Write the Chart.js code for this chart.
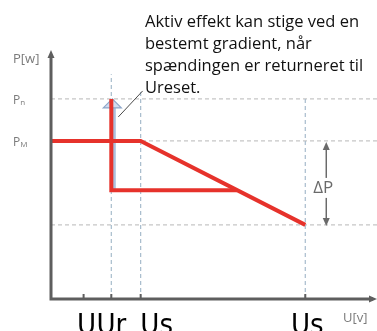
<!DOCTYPE html>
<html>
<head>
<meta charset="utf-8">
<script src="https://cdn.jsdelivr.net/npm/chart.js@4/dist/chart.umd.min.js"></script>
<style>
    body { margin: 0; background: #fff; }
    #chart { display: block; }
</style>
</head>
<body>
<canvas id="chart" width="377" height="331"></canvas>
<script>
// Spændingsstyret effektbegrænsning (P over U)
const uNames = ['U', 'Ur', 'Us', 'Us'];
const uValues = [10, 18.5, 27.5, 78];
const guideTops = [null, 91, 85, 81];   // hvor de lodrette hjælpelinjer slutter

const pNames = ['P', 'P'];
const pSubs = ['n', 'M'];
const pValues = [81, 64];
const pMin = 30;       // PM - ΔP
const pReset = 44;     // niveau efter udkobling
const uCross = 57;     // hvor genindkoblingen møder rampen

// rød kurve: begrænsning
const limitU = [0, 27.5, 78];
const limitP = [64, 64, 30];
// rød kurve: udkobling og genstart ved Ur
const resetU = [18.5, 18.5, uCross];
const resetP = [81, pReset, pReset];

const noteLines = [
    'Aktiv effekt kan stige ved en',
    'bestemt gradient, når',
    'spændingen er returneret til',
    'Ureset.'
];

const RED = '#e6322b';
const AXIS = '#5e5e5e';

function pts(xs, ys) {
    return xs.map((x, i) => ({ x: x, y: ys[i] }));
}

const guides = [];
uValues.forEach((u, i) => {
    if (guideTops[i] == null) return;
    guides.push({
        data: [{ x: u, y: 0 }, { x: u, y: guideTops[i] }],
        borderColor: '#a7bccc', borderWidth: 1.2, borderDash: [4, 3], order: 5
    });
});
[pValues[0], pValues[1], pMin].forEach(p => {
    guides.push({
        data: [{ x: 0, y: p }, { x: 100, y: p }],
        borderColor: '#c6c6c6', borderWidth: 1.2, borderDash: [4, 3], order: 5
    });
});

function arrowHead(ctx, x, y, dir, w, h) {
    ctx.beginPath();
    if (dir === 'up') { ctx.moveTo(x, y); ctx.lineTo(x - w, y + h); ctx.lineTo(x + w, y + h); }
    if (dir === 'down') { ctx.moveTo(x, y); ctx.lineTo(x - w, y - h); ctx.lineTo(x + w, y - h); }
    if (dir === 'right') { ctx.moveTo(x, y); ctx.lineTo(x - h, y - w); ctx.lineTo(x - h, y + w); }
    ctx.closePath();
    ctx.fill();
}

// akser, pile og tekster
const decor = {
    id: 'decor',
    beforeDatasetsDraw(chart) {
        const { ctx, scales: { x, y } } = chart;
        const xr = x.getPixelForValue(uValues[1]);
        const yTop = y.getPixelForValue(pValues[0]);
        const yLow = y.getPixelForValue(pReset);
        ctx.save();
        // blå pil bag den røde linje
        ctx.strokeStyle = 'rgba(150,178,212,0.8)';
        ctx.lineWidth = 4;
        ctx.beginPath();
        ctx.moveTo(xr + 2.5, yLow);
        ctx.lineTo(xr + 2.5, yTop + 8);
        ctx.stroke();
        ctx.fillStyle = 'rgba(205,218,238,0.95)';
        ctx.strokeStyle = '#8ea7c9';
        ctx.lineWidth = 1.2;
        ctx.beginPath();
        ctx.moveTo(xr + 1, yTop);
        ctx.lineTo(xr - 8, yTop + 9);
        ctx.lineTo(xr + 10, yTop + 9);
        ctx.closePath();
        ctx.fill();
        ctx.stroke();
        ctx.restore();
    },
    afterDatasetsDraw(chart) {
        const { ctx, chartArea: a, scales: { x, y } } = chart;
        ctx.save();

        // akser
        ctx.strokeStyle = AXIS;
        ctx.fillStyle = AXIS;
        ctx.lineWidth = 3;
        ctx.beginPath();
        ctx.moveTo(a.left, a.top + 4);
        ctx.lineTo(a.left, a.bottom);
        ctx.lineTo(a.right - 4, a.bottom);
        ctx.stroke();
        arrowHead(ctx, a.left, a.top - 2, 'up', 3.5, 8);
        arrowHead(ctx, a.right, a.bottom, 'right', 3.5, 8);

        // tick-streger
        ctx.lineWidth = 2;
        uValues.forEach(u => {
            const px = x.getPixelForValue(u);
            ctx.beginPath();
            ctx.moveTo(px, a.bottom - 5);
            ctx.lineTo(px, a.bottom);
            ctx.stroke();
        });

        // ΔP pil
        const xd = x.getPixelForValue(uValues[3]) + 21;
        const y1 = y.getPixelForValue(pValues[1]) + 1;
        const y2 = y.getPixelForValue(pMin) + 1;
        ctx.strokeStyle = '#6a6a6a';
        ctx.fillStyle = '#6a6a6a';
        ctx.lineWidth = 1.5;
        ctx.beginPath();
        ctx.moveTo(xd, y1 + 6);
        ctx.lineTo(xd, y2 - 6);
        ctx.stroke();
        arrowHead(ctx, xd, y1, 'up', 3.5, 8);
        arrowHead(ctx, xd, y2, 'down', 3.5, 8);
        ctx.font = '17px "Open Sans", sans-serif';
        ctx.textAlign = 'center';
        ctx.textBaseline = 'middle';
        const ym = (y1 + y2) / 2 + 4;
        ctx.fillStyle = '#fff';
        ctx.fillRect(xd - 11, ym - 10, 22, 20);
        ctx.fillStyle = '#6a6a6a';
        ctx.fillText('ΔP', xd - 3, ym);

        // forbindelseslinje til teksten
        const xr = x.getPixelForValue(uValues[1]);
        const xs = x.getPixelForValue(uValues[2]);
        const yn = y.getPixelForValue(pValues[0]);
        ctx.strokeStyle = '#4a4a4a';
        ctx.lineWidth = 1;
        ctx.beginPath();
        ctx.moveTo(xr + 7, yn + 18);
        ctx.lineTo(xs + 2, yn - 8);
        ctx.stroke();

        // forklarende tekst
        ctx.fillStyle = '#111';
        ctx.textAlign = 'left';
        ctx.font = '16.5px "Open Sans", sans-serif';
        noteLines.forEach((t, i) => ctx.fillText(t, 145, 22 + i * 22));

        // y-akse tekster
        ctx.fillStyle = '#7a7a7a';
        ctx.font = '13px "Open Sans", sans-serif';
        ctx.fillText('P[w]', 13, 59);
        pValues.forEach((p, i) => {
            const py = y.getPixelForValue(p) + 2;
            ctx.font = '12px "Open Sans", sans-serif';
            ctx.fillText(pNames[i], 13, py);
            const w = ctx.measureText(pNames[i]).width;
            ctx.font = '8px "Open Sans", sans-serif';
            ctx.fillText(pSubs[i], 13 + w, py + 2);
        });
        ctx.font = '13px "Open Sans", sans-serif';
        ctx.fillText('U[v]', 343, 318);

        // x-akse tekster
        const nudge = [3, 0, 16, 2];
        ctx.fillStyle = '#000';
        ctx.textAlign = 'center';
        ctx.textBaseline = 'alphabetic';
        ctx.font = '29px "Liberation Sans Narrow", "DejaVu Sans Condensed", sans-serif';
        uValues.forEach((u, i) => {
            ctx.fillText(uNames[i], x.getPixelForValue(u) + nudge[i], 334);
        });

        ctx.restore();
    }
};

new Chart(document.getElementById('chart'), {
    type: 'scatter',
    data: {
        datasets: [
            { data: pts(limitU, limitP), borderColor: RED, borderWidth: 4, order: 1 },
            { data: pts(resetU, resetP), borderColor: RED, borderWidth: 4, order: 1 },
            ...guides
        ].map(d => Object.assign({ showLine: true, pointRadius: 0, fill: false, tension: 0 }, d))
    },
    options: {
        responsive: false,
        animation: false,
        devicePixelRatio: 1,
        layout: { padding: { left: 51, right: 0, top: 52, bottom: 32 } },
        plugins: { legend: { display: false }, tooltip: { enabled: false } },
        scales: {
            x: { type: 'linear', min: 0, max: 100, display: false },
            y: { type: 'linear', min: 0, max: 100, display: false }
        }
    },
    plugins: [decor]
});
</script>
</body>
</html>
